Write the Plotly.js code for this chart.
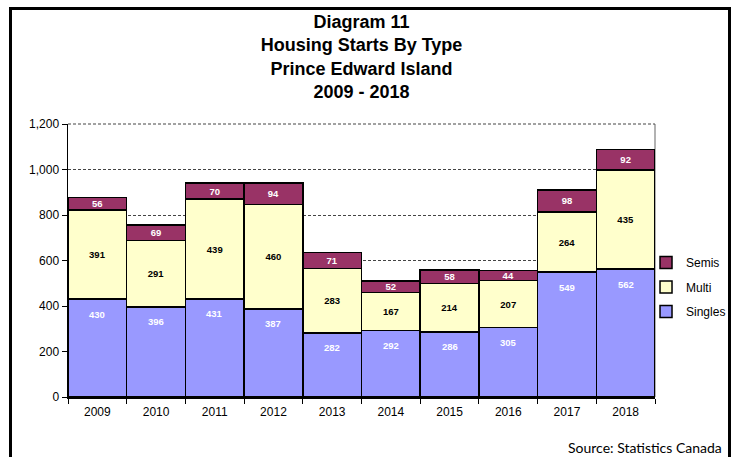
<!DOCTYPE html>
<html><head><meta charset="utf-8">
<script src="https://cdn.plot.ly/plotly-3.0.1.min.js"></script>
<style>
html,body{margin:0;padding:0;background:#fff;overflow:hidden;}
#chart{width:736px;height:457px;position:absolute;left:0;top:0;}
#frame{position:absolute;left:9px;top:7px;width:716px;height:480px;border:3px solid #000;pointer-events:none;}
</style></head>
<body>
<div id="chart"></div>
<div id="frame"></div>
<script>
const years = ['2009','2010','2011','2012','2013','2014','2015','2016','2017','2018'];
const singles = [430,396,431,387,282,292,286,305,549,562];
const multi   = [391,291,439,460,283,167,214,207,264,435];
const semis   = [56,69,70,94,71,52,58,44,98,92];
const yTicks = [0,200,400,600,800,1000,1200];
const yTickText = ['0','200','400','600','800','1,000','1,200'];

const outline = {color:'#000', width:1.5};
const labelFont = 'Liberation Sans, Arial, sans-serif';
const traces = [
  {type:'bar', name:'Singles', x:years, y:singles, legendgroup:'s', legendrank:3,
   marker:{color:'#9999FF', line:outline}, hoverinfo:'skip'},
  {type:'bar', name:'Multi', x:years, y:multi, legendgroup:'m', legendrank:2,
   marker:{color:'#FFFFCC', line:outline},
   text:multi.map(String), textposition:'inside', insidetextanchor:'middle',
   textangle:0, constraintext:'none',
   textfont:{family:labelFont, size:9.5, color:'#000', weight:'bold'}, hoverinfo:'skip'},
  {type:'bar', name:'Semis', x:years, y:semis, legendgroup:'e', legendrank:1,
   marker:{color:'#993366', line:outline},
   text:semis.map(String), textposition:'inside', insidetextanchor:'middle',
   textangle:0, constraintext:'none',
   textfont:{family:labelFont, size:9.5, color:'#fff', weight:'bold'}, hoverinfo:'skip'}
];

const annotations = years.map((yr,i)=>({
  x:i, y:singles[i], xref:'x', yref:'y', text:String(singles[i]),
  showarrow:false, yanchor:'middle', yshift:-15,
  font:{family:labelFont, size:9.5, color:'#fff', weight:'bold'}
}));

const layout = {
  width:736, height:457,
  margin:{l:68, r:81, t:124, b:60, autoexpand:false},
  paper_bgcolor:'#fff', plot_bgcolor:'#fff',
  barmode:'stack', bargap:0,
  font:{family:labelFont, size:12, color:'#000'},
  title:{text:'Diagram 11<br>Housing Starts By Type<br>Prince Edward Island<br>2009 - 2018',
    x:0.5, xref:'paper', xanchor:'center', y:0.9388, yref:'container', yanchor:'middle',
    font:{family:labelFont, size:18, color:'#000', weight:'bold'}},
  xaxis:{type:'category', tickson:'boundaries', ticks:'outside', ticklen:5, tickcolor:'#000',
    showline:true, linecolor:'#000', linewidth:1.5, showgrid:false, tickangle:0,
    ticklabelstandoff:3, tickfont:{size:12}, fixedrange:true},
  yaxis:{range:[0,1200], tickvals:yTicks, ticktext:yTickText, ticks:'outside', ticklen:5,
    tickcolor:'#000', showline:true, linecolor:'#000', linewidth:1.5,
    showgrid:true, gridcolor:'#444', griddash:'3px,2px', gridwidth:1, zeroline:false,
    tickfont:{size:12}, fixedrange:true},
  legend:{x:0.9847, y:0.403, xanchor:'left', yanchor:'middle', traceorder:'grouped',
    font:{size:12}, itemwidth:30, tracegroupgap:5.5, bgcolor:'rgba(0,0,0,0)'},
  shapes:[
    {type:'line', xref:'paper', yref:'paper', x0:1, x1:1, y0:0, y1:1,
     line:{color:'#999', width:1.5}, layer:'below'},
    {type:'line', xref:'paper', yref:'paper', x0:0, x1:1, y0:1, y1:1,
     line:{color:'#444', width:1, dash:'3px,2px'}, layer:'below'}
  ],
  annotations:annotations.concat([{
    xref:'paper', yref:'paper', x:1.118, y:-0.186, xanchor:'right', yanchor:'middle',
    text:'Source: Statistics Canada', showarrow:false,
    font:{family:'Lato, sans-serif', size:14, color:'#000'}
  }]),
  showlegend:true
};
Plotly.newPlot('chart', traces, layout, {displayModeBar:false, staticPlot:true});
</script>
</body></html>
